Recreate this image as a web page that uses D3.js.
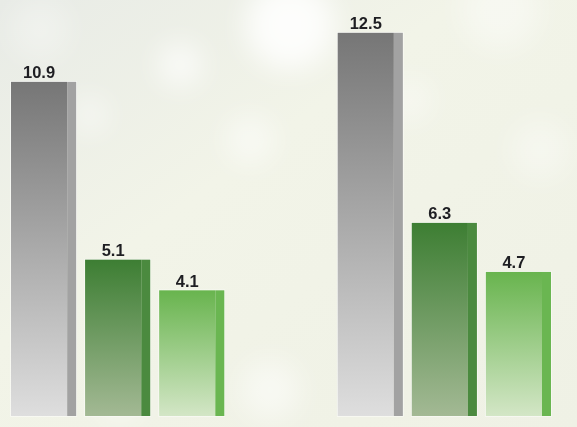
<!DOCTYPE html>
<html>
<head>
<meta charset="utf-8">
<script src="https://cdn.jsdelivr.net/npm/d3@7"></script>
<style>
html,body{margin:0;padding:0;background:#f0f2e8;}
svg{display:block;}
</style>
</head>
<body>
<svg id="chart" width="577" height="427"></svg>
<script>
const groups = ["Group 1", "Group 2"];
const series = ["Series A", "Series B", "Series C"];
const valuesA = [10.9, 12.5];
const valuesB = [5.1, 6.3];
const valuesC = [4.1, 4.7];
const labels = [["10.9", "5.1", "4.1"], ["12.5", "6.3", "4.7"]];

const W = 577, H = 427;
const svg = d3.select("#chart");
const defs = svg.append("defs");

// background
const bg = defs.append("linearGradient").attr("id","bg").attr("x1",0).attr("y1",0).attr("x2",1).attr("y2",1);
bg.append("stop").attr("offset","0%").attr("stop-color","#e8ebe6");
bg.append("stop").attr("offset","40%").attr("stop-color","#f2f4e8");
bg.append("stop").attr("offset","100%").attr("stop-color","#eff1e5");
svg.append("rect").attr("width",W).attr("height",H).attr("fill","url(#bg)");
const blur = defs.append("filter").attr("id","blur").attr("x","-50%").attr("y","-50%").attr("width","200%").attr("height","200%");
blur.append("feGaussianBlur").attr("stdDeviation",14);
const spots = [[290,25,45,0.85],[180,65,22,0.7],[90,115,18,0.5],[250,140,25,0.5],[500,10,40,0.4],[540,150,30,0.35],[410,100,22,0.4],[270,390,30,0.5],[120,400,25,0.35],[40,30,30,0.3]];
svg.append("g").attr("filter","url(#blur)").selectAll("circle").data(spots).join("circle")
  .attr("cx",d=>d[0]).attr("cy",d=>d[1]).attr("r",d=>d[2]).attr("fill","#ffffff").attr("opacity",d=>d[3]);

// scales
const x0 = d3.scaleBand().domain(groups).range([11, 551]).paddingInner(0.347).paddingOuter(0);
const x1 = d3.scaleBand().domain(series).range([0, x0.bandwidth()]).paddingInner(0.12).paddingOuter(0);
const y = d3.scaleLinear().domain([0, 13.57]).range([416, 0]);

const styles = {
  "Series A": {top:"#767676", bottom:"#dedede", side:"#a2a2a2"},
  "Series B": {top:"#3d7e33", bottom:"#a3b994", side:"#4b8a3f"},
  "Series C": {top:"#68b44e", bottom:"#d3e6c6", side:"#6ab651"}
};
series.forEach((s,i)=>{
  const g = defs.append("linearGradient").attr("id","grad"+i).attr("x1",0).attr("y1",0).attr("x2",0).attr("y2",1);
  g.append("stop").attr("offset","0%").attr("stop-color",styles[s].top);
  g.append("stop").attr("offset","100%").attr("stop-color",styles[s].bottom);
});

const data = [];
groups.forEach((g,gi)=>{
  [valuesA[gi], valuesB[gi], valuesC[gi]].forEach((v,si)=>{
    data.push({group:g, series:series[si], si, value:v, label:labels[gi][si]});
  });
});

const sideW = 9;
const bars = svg.append("g").selectAll("g").data(data).join("g")
  .attr("transform", d=>`translate(${x0(d.group)+x1(d.series)},0)`);

bars.append("rect")
  .attr("x",0).attr("y",d=>y(d.value))
  .attr("width",x1.bandwidth()).attr("height",d=>y(0)-y(d.value))
  .attr("fill","none").attr("stroke","#ffffff").attr("stroke-opacity",0.6).attr("stroke-width",1.5);
bars.append("rect")
  .attr("x",0).attr("y",d=>y(d.value))
  .attr("width",x1.bandwidth()-sideW).attr("height",d=>y(0)-y(d.value))
  .attr("fill",d=>`url(#grad${d.si})`);
bars.append("rect")
  .attr("x",x1.bandwidth()-sideW).attr("y",d=>y(d.value))
  .attr("width",sideW).attr("height",d=>y(0)-y(d.value))
  .attr("fill",d=>styles[d.series].side);

bars.append("text")
  .attr("x",(x1.bandwidth()-sideW)/2)
  .attr("y",d=>y(d.value)-3.5)
  .attr("text-anchor","middle")
  .attr("font-family","Liberation Sans, Arial, sans-serif")
  .attr("font-weight","bold")
  .attr("font-size","16.5px")
  .attr("fill","#1e1e22")
  .text(d=>d.label);
</script>
</body>
</html>
